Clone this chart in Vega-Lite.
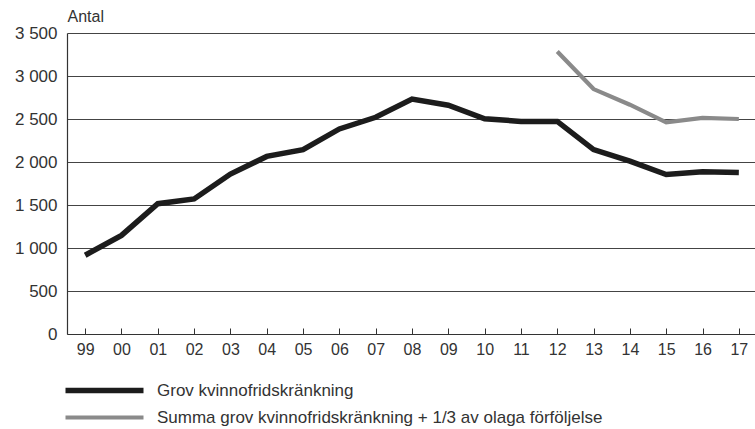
{
  "$schema": "https://vega.github.io/schema/vega-lite/v6.json",
  "autosize": {"type": "none"},
  "padding": {"left": 67, "top": 33, "right": 0, "bottom": 95},
  "width": 690,
  "height": 301,
  "background": "white",
  "config": {
    "font": "Liberation Sans",
    "view": {"stroke": null},
    "axis": {"labelFont": "Liberation Sans", "titleFont": "Liberation Sans"},
    "legend": {"labelFont": "Liberation Sans"}
  },
  "data": {
    "values": [
      {"year": "99", "series": "Grov kvinnofridskränkning", "value": 916},
      {"year": "00", "series": "Grov kvinnofridskränkning", "value": 1147},
      {"year": "01", "series": "Grov kvinnofridskränkning", "value": 1515},
      {"year": "02", "series": "Grov kvinnofridskränkning", "value": 1570},
      {"year": "03", "series": "Grov kvinnofridskränkning", "value": 1860},
      {"year": "04", "series": "Grov kvinnofridskränkning", "value": 2065},
      {"year": "05", "series": "Grov kvinnofridskränkning", "value": 2144},
      {"year": "06", "series": "Grov kvinnofridskränkning", "value": 2384},
      {"year": "07", "series": "Grov kvinnofridskränkning", "value": 2520},
      {"year": "08", "series": "Grov kvinnofridskränkning", "value": 2732},
      {"year": "09", "series": "Grov kvinnofridskränkning", "value": 2660},
      {"year": "10", "series": "Grov kvinnofridskränkning", "value": 2503},
      {"year": "11", "series": "Grov kvinnofridskränkning", "value": 2472},
      {"year": "12", "series": "Grov kvinnofridskränkning", "value": 2472},
      {"year": "13", "series": "Grov kvinnofridskränkning", "value": 2144},
      {"year": "14", "series": "Grov kvinnofridskränkning", "value": 2009},
      {"year": "15", "series": "Grov kvinnofridskränkning", "value": 1854},
      {"year": "16", "series": "Grov kvinnofridskränkning", "value": 1886},
      {"year": "17", "series": "Grov kvinnofridskränkning", "value": 1878},
      {"year": "12", "series": "Summa grov kvinnofridskränkning + 1/3 av olaga förföljelse", "value": 3284},
      {"year": "13", "series": "Summa grov kvinnofridskränkning + 1/3 av olaga förföljelse", "value": 2848},
      {"year": "14", "series": "Summa grov kvinnofridskränkning + 1/3 av olaga förföljelse", "value": 2666},
      {"year": "15", "series": "Summa grov kvinnofridskränkning + 1/3 av olaga förföljelse", "value": 2461},
      {"year": "16", "series": "Summa grov kvinnofridskränkning + 1/3 av olaga förföljelse", "value": 2512},
      {"year": "17", "series": "Summa grov kvinnofridskränkning + 1/3 av olaga förföljelse", "value": 2500}
    ]
  },
  "mark": {"type": "line", "strokeJoin": "miter", "strokeCap": "butt"},
  "encoding": {
    "x": {
      "field": "year",
      "type": "ordinal",
      "sort": null,
      "scale": {"type": "point", "padding": 0.5},
      "axis": {
        "title": null,
        "labelAngle": 0,
        "labelFontSize": 16,
        "labelColor": "#333333",
        "labelPadding": 13,
        "tickSize": -6,
        "tickColor": "#333333",
        "tickWidth": 1,
        "domainColor": "#333333",
        "domainWidth": 1.2,
        "grid": false
      }
    },
    "y": {
      "field": "value",
      "type": "quantitative",
      "scale": {"domain": [0, 3500], "nice": false},
      "axis": {
        "title": "Antal",
        "titleAngle": 0,
        "titleAlign": "left",
        "titleBaseline": "middle",
        "titleX": 0,
        "titleY": -17,
        "titleFontSize": 16,
        "titleFontWeight": "normal",
        "titleColor": "#333333",
        "values": [0, 500, 1000, 1500, 2000, 2500, 3000, 3500],
        "labelExpr": "replace(format(datum.value, ','), ',', ' ')",
        "labelFontSize": 17,
        "labelColor": "#333333",
        "labelPadding": 10,
        "ticks": false,
        "domainColor": "#333333",
        "domainWidth": 1.2,
        "grid": true,
        "gridColor": "#444444",
        "gridWidth": 1
      }
    },
    "color": {
      "field": "series",
      "type": "nominal",
      "scale": {
        "domain": ["Grov kvinnofridskränkning", "Summa grov kvinnofridskränkning + 1/3 av olaga förföljelse"],
        "range": ["#1c1c1c", "#8a8a8a"]
      },
      "legend": {
        "title": null,
        "orient": "none",
        "legendX": 29,
        "legendY": 349,
        "padding": 0,
        "direction": "vertical",
        "symbolType": "M-39,0H39",
        "symbolSize": 4,
        "symbolStrokeWidth": 4,
        "labelFontSize": 17,
        "labelColor": "#333333",
        "labelOffset": 44,
        "labelLimit": 0,
        "rowPadding": 6
      }
    },
    "strokeWidth": {
      "field": "series",
      "type": "nominal",
      "scale": {
        "domain": ["Grov kvinnofridskränkning", "Summa grov kvinnofridskränkning + 1/3 av olaga förföljelse"],
        "range": [5.5, 4.2]
      },
      "legend": null
    }
  }
}
